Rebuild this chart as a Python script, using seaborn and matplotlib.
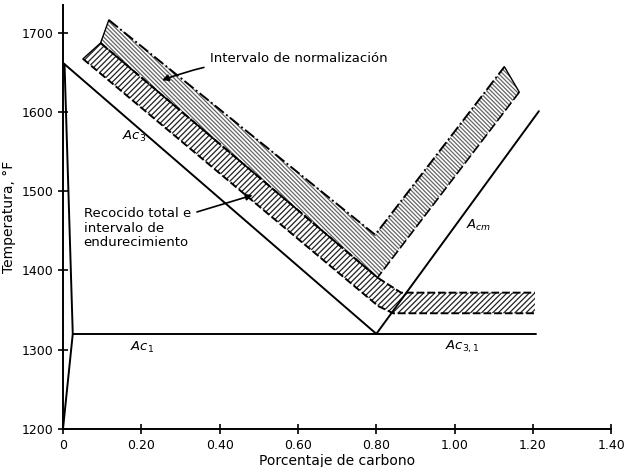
import numpy as np
import pandas as pd
import matplotlib
matplotlib.use("Agg")
import matplotlib.pyplot as plt
import seaborn as sns

# Lineas de transformacion (porcentaje de carbono, temperatura en F)
ac3_x = [0.0, 0.80]
ac3_y = [1662, 1320]
acm_x = [0.80, 1.215]
acm_y = [1320, 1601]
ac1_x = [0.025, 1.208]
ac1_y = [1320, 1320]
alpha_x = [0.0, 0.025, 0.004]
alpha_y = [1200, 1320, 1660]

# Intervalo de normalizacion (borde superior e inferior)
norm_top_x = [0.117, 0.797, 1.127]
norm_top_y = [1716, 1445, 1657]
norm_bot_x = [0.096, 0.803, 1.165]
norm_bot_y = [1687, 1391, 1625]

# Recocido total e intervalo de endurecimiento
ann_top_x = [0.096, 0.803, 0.863, 1.205]
ann_top_y = [1687, 1391, 1372, 1372]
ann_bot_x = [0.051, 0.805, 0.843, 1.205]
ann_bot_y = [1667, 1355, 1346, 1346]

x_ticks = [0, 0.20, 0.40, 0.60, 0.80, 1.00, 1.20, 1.40]
x_tick_labels = ["0", "0.20", "0.40", "0.60", "0.80", "1.00", "1.20", "1.40"]
y_ticks = [1200, 1300, 1400, 1500, 1600, 1700]

sns.set_style("ticks")
plt.rcParams["font.family"] = ["DejaVu Sans"]
plt.rcParams["hatch.linewidth"] = 0.9
plt.rcParams["text.color"] = "black"
plt.rcParams["axes.labelcolor"] = "black"
plt.rcParams["xtick.color"] = "black"
plt.rcParams["ytick.color"] = "black"
plt.rcParams["axes.edgecolor"] = "black"

fig = plt.figure(figsize=(6.26, 4.67), dpi=100)
ax = fig.add_axes([0.1006, 0.0814, 0.876, 0.908])


def band(ax, top_x, top_y, bot_x, bot_y, hatch, color):
    px = list(top_x) + list(bot_x)[::-1]
    py = list(top_y) + list(bot_y)[::-1]
    ax.fill(px, py, facecolor="white", edgecolor=color, hatch=hatch, linewidth=0)


band(ax, norm_top_x, norm_top_y, norm_bot_x, norm_bot_y, "\\\\\\\\\\\\\\\\", "#666666")
band(ax, ann_top_x, ann_top_y, ann_bot_x, ann_bot_y, "//////", "#222222")

lw = 1.4
for xs, ys in [(ac3_x, ac3_y), (acm_x, acm_y), (ac1_x, ac1_y), (alpha_x, alpha_y)]:
    sns.lineplot(x=xs, y=ys, sort=False, color="black", linewidth=lw, ax=ax)

# bordes de las bandas
sns.lineplot(x=norm_top_x, y=norm_top_y, sort=False, color="black", linewidth=1.4,
             linestyle=(0, (6, 1.5, 1, 1.5)), ax=ax)
sns.lineplot(x=norm_bot_x, y=norm_bot_y, sort=False, color="black", linewidth=1.2,
             linestyle=(0, (6, 2)), ax=ax)
sns.lineplot(x=ann_top_x, y=ann_top_y, sort=False, color="black", linewidth=1.4,
             linestyle=(0, (4, 1.5)), ax=ax)
sns.lineplot(x=ann_bot_x, y=ann_bot_y, sort=False, color="black", linewidth=1.4,
             linestyle=(0, (4, 1.5)), ax=ax)
# extremos de las bandas
ax.plot([norm_top_x[0], norm_bot_x[0]], [norm_top_y[0], norm_bot_y[0]], color="black", lw=1)
ax.plot([norm_top_x[-1], norm_bot_x[-1]], [norm_top_y[-1], norm_bot_y[-1]], color="black", lw=1)
ax.plot([ann_top_x[0], ann_bot_x[0]], [ann_top_y[0], ann_bot_y[0]], color="black", lw=1)

# etiquetas de las lineas
lab = dict(fontsize=9.5, style="italic", color="black")
ax.text(0.15, 1569, r"$Ac_3$", ha="left", va="center", **lab)
ax.text(0.17, 1303, r"$Ac_1$", ha="left", va="center", **lab)
ax.text(0.975, 1304, r"$Ac_{3,1}$", ha="left", va="center", **lab)
ax.text(1.03, 1457, r"$A_{cm}$", ha="left", va="center", **lab)

ax.annotate("Intervalo de normalización", xy=(0.253, 1640), xytext=(0.375, 1668),
            fontsize=9.5, ha="left", va="center",
            arrowprops=dict(arrowstyle="-|>", color="black", lw=1.2,
                            connectionstyle="arc3,rad=0.1", shrinkA=2, shrinkB=0))
ax.annotate("Recocido total e\nintervalo de\nendurecimiento", xy=(0.484, 1495),
            xytext=(0.053, 1453), fontsize=9.5, ha="left", va="center",
            linespacing=1.15,
            arrowprops=dict(arrowstyle="-|>", color="black", lw=1.2,
                            relpos=(1.0, 0.85), shrinkA=2, shrinkB=0))

ax.set_xlim(0, 1.40)
ax.set_ylim(1200, 1735)
ax.set_xticks(x_ticks)
ax.set_xticklabels(x_tick_labels)
ax.set_yticks(y_ticks)
ax.tick_params(direction="inout", length=7, width=1.2, labelsize=9)
ax.set_xlabel("Porcentaje de carbono", fontsize=10, labelpad=2)
ax.set_ylabel("Temperatura, °F", fontsize=10, labelpad=4)
sns.despine(ax=ax)
for s in ["left", "bottom"]:
    ax.spines[s].set_linewidth(1.4)

fig.savefig("out.png", dpi=100)
